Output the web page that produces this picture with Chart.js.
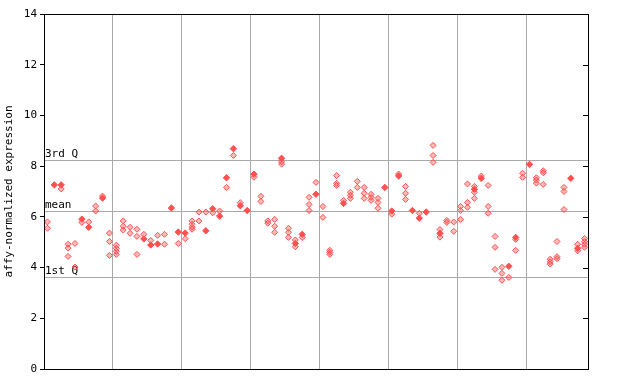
<!DOCTYPE html>
<html>
<head>
<meta charset="utf-8">
<script src="https://cdn.jsdelivr.net/npm/chart.js@4"></script>
<style>
  body { margin: 0; background: #fff; }
  canvas { display: block; }
</style>
</head>
<body>
<canvas id="myChart" width="640" height="384"></canvas>
<script>
// one entry per sample (79 samples), values of each probe
const hollowValues = [
  [5.80, 5.55], [], [7.10], [4.92, 4.77, 4.44], [4.95, 4.02],
  [5.78], [5.80], [6.43, 6.23], [6.82], [5.36, 5.03, 4.48],
  [4.88, 4.76, 4.64, 4.52], [5.84, 5.63, 5.48], [5.59, 5.35], [5.51, 5.23, 4.52], [5.31],
  [5.07], [5.27], [5.31, 4.92], [], [4.95],
  [5.14], [5.84, 5.71, 5.59, 5.51], [6.19, 5.84], [6.19], [6.16],
  [6.23], [7.16], [8.42], [6.56], [],
  [7.56], [6.81, 6.61], [5.84, 5.75], [5.90, 5.63, 5.39], [8.17, 8.08],
  [5.55, 5.39, 5.19], [5.09, 4.82], [5.19], [6.77, 6.49, 6.25], [7.36],
  [6.41, 5.98], [4.68, 4.60, 4.52], [7.63, 7.32, 7.24], [6.65], [6.97, 6.85, 6.73],
  [7.40, 7.16], [7.16, 6.93, 6.73], [6.89, 6.77, 6.65], [6.73, 6.57, 6.34], [],
  [6.11], [7.69], [7.20, 6.93, 6.69], [], [6.14],
  [], [8.82, 8.42, 8.15], [5.50, 5.20], [5.86, 5.78], [5.80, 5.43],
  [6.41, 6.25, 5.90], [7.30, 6.57, 6.38], [7.20, 6.97, 6.73], [7.61], [7.24, 6.41, 6.14],
  [5.23, 4.80, 3.93], [4.01, 3.77, 3.50], [3.61], [5.11, 4.68], [7.72, 7.56],
  [], [7.54, 7.45, 7.33], [7.82, 7.74, 7.28], [4.33, 4.23, 4.14], [5.03, 4.43, 4.35],
  [7.16, 7.00, 6.29], [], [4.92, 4.66], [5.15, 5.02, 4.92, 4.80]
];
const solidValues = [
  [], [7.26], [7.26], [], [],
  [5.91], [5.59], [], [6.74], [],
  [], [], [], [], [5.13],
  [4.89], [4.93], [], [6.35], [5.40],
  [5.36], [], [], [5.45], [6.32],
  [6.03], [7.54], [8.69], [6.44], [6.25],
  [7.68], [], [], [], [8.31],
  [], [4.95], [5.31], [], [6.89],
  [], [], [], [6.53], [],
  [], [], [], [], [7.16],
  [6.23], [7.61], [], [6.25], [5.95],
  [6.19], [], [5.35], [], [],
  [], [], [7.09], [7.52], [],
  [], [], [4.05], [5.19], [],
  [8.07], [], [], [], [],
  [], [7.52], [4.76], []
];
const yTicks = [0, 2, 4, 6, 8, 10, 12, 14];
const quartileValues = [3.63, 6.23, 8.24];
const quartileLabels = ["1st Q", "mean", "3rd Q"];

const red = "#ff5050";

function toPoints(groups) {
  const pts = [];
  groups.forEach((vals, i) => {
    vals.forEach(v => pts.push({ x: i + 0.5, y: v }));
  });
  return pts;
}

// quartile lines, their labels, frame and inner ticks on the right
const overlay = {
  id: "overlay",
  beforeDatasetsDraw(chart) {
    const ctx = chart.ctx;
    const area = chart.chartArea;
    const y = chart.scales.y;
    ctx.save();
    ctx.strokeStyle = "#aaaaaa";
    ctx.lineWidth = 1;
    ctx.fillStyle = "#000";
    ctx.font = "11px 'DejaVu Sans Mono'";
    ctx.textBaseline = "bottom";
    ctx.textAlign = "left";
    quartileValues.forEach((q, i) => {
      const py = Math.round(y.getPixelForValue(q)) + 0.5;
      ctx.beginPath();
      ctx.moveTo(area.left, py);
      ctx.lineTo(area.right, py);
      ctx.stroke();
      ctx.fillText(quartileLabels[i], area.left + 1, py - 1);
    });
    ctx.restore();
  },
  afterDraw(chart) {
    const ctx = chart.ctx;
    const area = chart.chartArea;
    const y = chart.scales.y;
    ctx.save();
    ctx.strokeStyle = "#000";
    ctx.lineWidth = 1;
    ctx.strokeRect(Math.round(area.left) + 0.5, Math.round(area.top) + 0.5,
      Math.round(area.right - area.left), Math.round(area.bottom - area.top));
    yTicks.forEach(t => {
      const py = Math.round(y.getPixelForValue(t)) + 0.5;
      ctx.beginPath();
      ctx.moveTo(area.right - 5, py);
      ctx.lineTo(area.right, py);
      ctx.stroke();
    });
    ctx.restore();
  }
};

const ctx = document.getElementById("myChart").getContext("2d");
new Chart(ctx, {
  type: "scatter",
  data: {
    datasets: [
      {
        data: toPoints(hollowValues),
        pointStyle: "rectRot",
        pointRadius: 3,
        borderWidth: 1,
        borderColor: red,
        backgroundColor: "rgba(255, 80, 80, 0.4)"
      },
      {
        data: toPoints(solidValues),
        pointStyle: "rectRot",
        pointRadius: 3.2,
        borderWidth: 1,
        borderColor: red,
        backgroundColor: red
      }
    ]
  },
  options: {
    responsive: false,
    animation: false,
    layout: { padding: { left: 0, top: 14, right: 52, bottom: 15 } },
    plugins: {
      legend: { display: false },
      tooltip: { enabled: false }
    },
    scales: {
      x: {
        type: "linear",
        min: 0,
        max: 79,
        ticks: { display: false, stepSize: 10 },
        grid: { color: "#aaaaaa", drawTicks: false },
        border: { display: false },
        afterFit: s => { s.height = 0; }
      },
      y: {
        min: 0,
        max: 14,
        afterBuildTicks: s => { s.ticks = yTicks.map(v => ({ value: v })); },
        ticks: {
          color: "#000",
          padding: 3,
          font: { family: "DejaVu Sans Mono", size: 11 }
        },
        grid: { drawOnChartArea: false, drawTicks: true, tickLength: 4, color: "#000" },
        border: { display: false },
        title: {
          display: true,
          text: "affy-normalized expression",
          color: "#000",
          padding: { top: 3, bottom: 0 },
          font: { family: "DejaVu Sans Mono", size: 11 }
        },
        afterFit: s => { s.width = 44; }
      }
    }
  },
  plugins: [overlay]
});
</script>
</body>
</html>
